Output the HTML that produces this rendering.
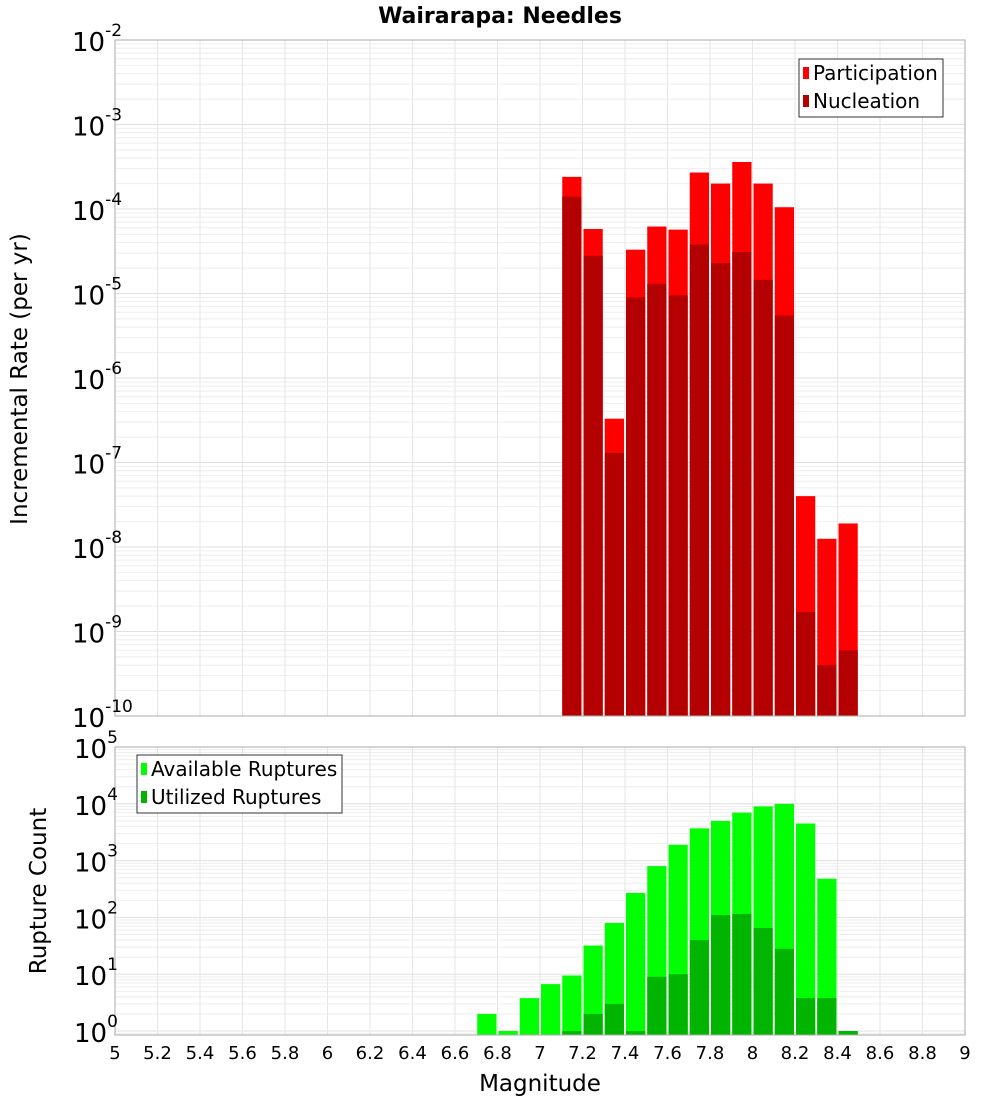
<!DOCTYPE html>
<html><head><meta charset="utf-8"><style>
body{margin:0;background:#fff}
svg{display:block;font-family:"DejaVu Sans","Liberation Sans",sans-serif}
</style></head><body>
<svg id="chart" width="1000" height="1100" viewBox="0 0 1000 1100" xmlns="http://www.w3.org/2000/svg">
<text x="500" y="23" text-anchor="middle" font-size="22" font-weight="bold">Wairarapa: Needles</text>
<text transform="translate(27,379) rotate(-90)" text-anchor="middle" font-size="23">Incremental Rate (per yr)</text>
<text transform="translate(46,891) rotate(-90)" text-anchor="middle" font-size="23">Rupture Count</text>
<text x="540" y="1091" text-anchor="middle" font-size="23">Magnitude</text>
<g id="g"></g>
</svg>
<script>
const magBins=[7.1,7.2,7.3,7.4,7.5,7.6,7.7,7.8,7.9,8.0,8.1,8.2,8.3,8.4];
const participation=[2.4e-4,5.8e-5,3.3e-7,3.3e-5,6.2e-5,5.7e-5,2.7e-4,2.0e-4,3.6e-4,2.0e-4,1.05e-4,4e-8,1.25e-8,1.9e-8];
const nucleation=[1.4e-4,2.8e-5,1.3e-7,9e-6,1.3e-5,9.5e-6,3.8e-5,2.3e-5,3.1e-5,1.45e-5,5.5e-6,1.7e-9,4e-10,6e-10];
const countBins=[6.7,6.8,6.9,7.0,7.1,7.2,7.3,7.4,7.5,7.6,7.7,7.8,7.9,8.0,8.1,8.2,8.3,8.4];
const available=[2,1,3.8,6.7,9.5,32,80,270,800,1900,3700,5000,7000,9000,10000,4500,480,1];
const utilized=[0,0,0,0,1,2,3,1,9,10,40,110,115,65,28,3.8,3.8,1];
const xTicks=[5,5.2,5.4,5.6,5.8,6,6.2,6.4,6.6,6.8,7,7.2,7.4,7.6,7.8,8,8.2,8.4,8.6,8.8,9];
const topExps=[-2,-3,-4,-5,-6,-7,-8,-9,-10];
const botExps=[5,4,3,2,1,0];

const NS="http://www.w3.org/2000/svg",G=document.getElementById('g');
function el(t,a,p){const e=document.createElementNS(NS,t);for(const k in a)e.setAttribute(k,a[k]);(p||G).appendChild(e);return e;}
const X0=115,X1=965;
const xs=v=>X0+(v-5)/4*(X1-X0);
const T0=40,T1=716;const ysT=v=>T0+(-2-Math.log10(v))/8*(T1-T0);
const B0=747,B1=1035;const BMAX=5,BMIN=-0.07;const ysB=v=>B0+(BMAX-Math.log10(v))/(BMAX-BMIN)*(B1-B0);

function grid(y0,y1,ys,lo,hi){
  for(let e=lo;e<hi;e++)for(let m=1;m<10;m++){const y=ys(m*Math.pow(10,e));if(y<y0||y>y1)continue;
    const l=el('line',{x1:X0,x2:X1,y1:y,y2:y,stroke:m==1?'#e0e0e0':'#eeeeee','stroke-width':1});
    }
  for(let v=5.2;v<9;v+=0.2){const x=xs(v);const l=el('line',{x1:x,x2:x,y1:y0,y2:y1,stroke:'#e6e6e6','stroke-width':1});
    }
}
grid(T0,T1,ysT,-10,-2);
grid(B0,B1,ysB,-1,5);

function bars(bins,vals,ys,base,color,name){
  bins.forEach((b,i)=>{const v=vals[i];if(!(v>0))return;const y=ys(v);
    const r=el('rect',{x:xs(b)+1,y:y,width:xs(b+0.1)-xs(b)-2,height:base-y,fill:color});
    });
}
bars(magBins,participation,ysT,T1,'#ff0000','participation');
bars(magBins,nucleation,ysT,T1,'#b40000','nucleation');
bars(countBins,available,ysB,B1,'#00ff00','available');
bars(countBins,utilized,ysB,B1,'#00b400','utilized');

[[T0,T1],[B0,B1]].forEach(([a,b])=>{const r=el('rect',{x:X0,y:a,width:X1-X0,height:b-a,fill:'none',stroke:'#aaaaaa'});
  });

function ylab(y,e,name){const t=el('text',{x:72+(String(e).length>1?0:2),y:y+11,'text-anchor':'start','font-size':26});
  
  t.textContent='10';const s=el('tspan',{dy:-15,'font-size':17},t);s.textContent=String(e);}
topExps.forEach(e=>ylab(ysT(Math.pow(10,e)),e,'top-y-tick-label'));
botExps.forEach(e=>ylab(ysB(Math.pow(10,e)),e,'bottom-y-tick-label'));
xTicks.forEach(v=>{const t=el('text',{x:xs(v),y:1059,'text-anchor':'middle','font-size':18});
  
  t.textContent=String(Math.round(v*10)/10);});

function legend(x,y,w,items,name){const g=el('g',{});
  el('rect',{x:x,y:y,width:w,height:58,fill:'#fff',stroke:'#333'},g);
  items.forEach(([c,l],i)=>{const yy=y+14+i*28;
    const r=el('rect',{x:x+4,y:yy-6,width:6,height:12,fill:c},g);
    
    const t=el('text',{x:x+14,y:yy+7,'font-size':20},g);t.textContent=l;
    });}
legend(799,59,144,[['#ff0000','Participation'],['#b40000','Nucleation']],'top-legend');
legend(137,755,205,[['#00ff00','Available Ruptures'],['#00b400','Utilized Ruptures']],'bottom-legend');
</script>
</body></html>
